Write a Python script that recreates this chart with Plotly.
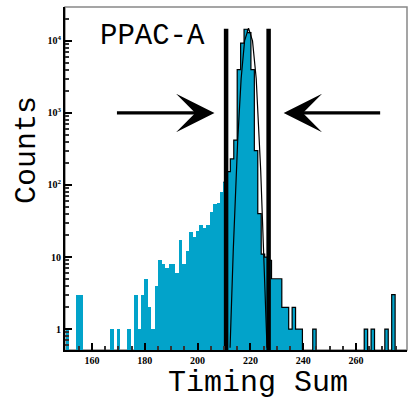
import plotly.graph_objects as go

# Histogram: bin start, bin width, counts per bin (index -> count)
bin_start = 150.0
bin_width = 1.3
counts = {
    0: 1, 3: 3, 4: 3, 13: 1, 15: 1, 18: 1,
    20: 3, 21: 1, 22: 3, 23: 5, 24: 2, 25: 1, 26: 4, 27: 9, 28: 8, 29: 7,
    30: 8, 31: 8, 32: 6, 33: 17, 34: 8, 35: 12, 36: 22, 37: 19, 38: 23,
    39: 28, 40: 25, 41: 28, 42: 42, 43: 55, 44: 56, 45: 81,
    46: 110, 47: 153, 48: 230, 49: 420, 50: 4000, 51: 9300, 52: 14500,
    53: 13000, 54: 4000, 55: 300, 56: 40, 57: 11, 58: 10, 59: 9,
    60: 5, 61: 5, 62: 5, 63: 2, 64: 2, 65: 1, 66: 2, 67: 1, 68: 1,
    72: 1, 87: 1, 89: 1, 93: 1, 95: 3,
}
n_bins = 100
outline_from = 46

# Gaussian fit curve
fit_x = [212.3, 213.5, 215.2, 216.5, 217.8, 219.3, 220.8, 222.2, 223.9, 225.2, 226.3]
fit_y = [0.55, 12, 420, 3000, 10000, 15000, 10000, 3000, 160, 8, 0.55]

# gate lines
gate_x = [210.8, 226.9]
gate_top = 14700

x_tick_vals = [160, 180, 200, 220, 240, 260, 280]
y_tick_vals = [1, 10, 100, 1000, 10000]
y_tick_text = ["1", "10", "10<sup>2</sup>", "10<sup>3</sup>", "10<sup>4</sup>"]

BLUE = "#02a3ca"

centers = [bin_start + (i + 0.5) * bin_width for i in range(n_bins)]
vals = [counts.get(i, 0) for i in range(n_bins)]
bx = [c for c, v in zip(centers, vals) if v > 0]
by = [v for v in vals if v > 0]

fig = go.Figure()
fig.add_trace(go.Bar(x=bx, y=by, width=bin_width, marker=dict(color=BLUE, line=dict(width=0)),
                     showlegend=False))

# outline step line for right part
sx, sy = [], []
for i in range(outline_from, n_bins):
    v = counts.get(i, 0)
    left = bin_start + i * bin_width
    sx += [left, left + bin_width]
    sy += [v if v > 0 else 0.1] * 2
fig.add_trace(go.Scatter(x=sx, y=sy, mode="lines", line=dict(color="black", width=1.2),
                         showlegend=False))

fig.add_trace(go.Scatter(x=fit_x, y=fit_y, mode="lines", line=dict(color="black", width=1.2),
                         showlegend=False))

for gx in gate_x:
    fig.add_trace(go.Scatter(x=[gx, gx], y=[0.1, gate_top], mode="lines",
                             line=dict(color="black", width=4.5), showlegend=False))

arrow_common = dict(xref="x", yref="y", axref="x", ayref="y", showarrow=True, text="",
                    arrowhead=3, arrowsize=2.0, arrowwidth=3.2, arrowcolor="black")
fig.add_annotation(x=206.4, y=3, ax=168.9, ay=3, **arrow_common)
fig.add_annotation(x=232.6, y=3, ax=269.7, ay=3, **arrow_common)

mono = "Liberation Mono"
fig.add_annotation(x=0.257, y=0.913, xref="paper", yref="paper", text="PPAC-A",
                   xanchor="center", yanchor="middle",
                   showarrow=False, font=dict(family=mono, size=29, color="black"))
fig.add_annotation(x=-0.111, y=0.583, xref="paper", yref="paper", text="Counts",
                   xanchor="center", yanchor="middle",
                   textangle=-90, showarrow=False, font=dict(family=mono, size=30, color="black"))
fig.add_annotation(x=0.564, y=-0.096, xref="paper", yref="paper", text="Timing Sum",
                   xanchor="center", yanchor="middle",
                   showarrow=False, font=dict(family=mono, size=30, color="black"))

fig.add_shape(type="rect", xref="paper", yref="paper", x0=0, y0=0, x1=1, y1=1,
              line=dict(color="#888888", width=1.5), layer="below")

tickfont = dict(family="Liberation Serif", size=10, color="black", weight="bold")
minor_y = [m * 10 ** k for k in range(-1, 5) for m in range(2, 10)]
fig.update_xaxes(range=[149.8, 279.3], tickvals=x_tick_vals, ticks="inside", ticklen=7,
                 tickwidth=1.5, tickcolor="black", showline=True, linecolor="black", linewidth=2,
                 showgrid=False, zeroline=False, tickfont=tickfont,
                 minor=dict(dtick=5, tick0=150, ticks="inside", ticklen=4, tickcolor="#333", showgrid=False))
fig.update_yaxes(type="log", range=[-0.29, 4.47], tickvals=y_tick_vals, ticktext=y_tick_text,
                 ticks="inside", ticklen=7, tickwidth=1.5, tickcolor="black", showline=True,
                 linecolor="black", linewidth=2, showgrid=False, zeroline=False, tickfont=tickfont,
                 minor=dict(tickvals=minor_y, ticks="inside", ticklen=4, tickcolor="#333", showgrid=False))
fig.update_layout(width=409, height=401, margin=dict(l=65, r=2, t=7, b=51),
                  plot_bgcolor="white", paper_bgcolor="white", bargap=0)
fig.write_html("out.html")
